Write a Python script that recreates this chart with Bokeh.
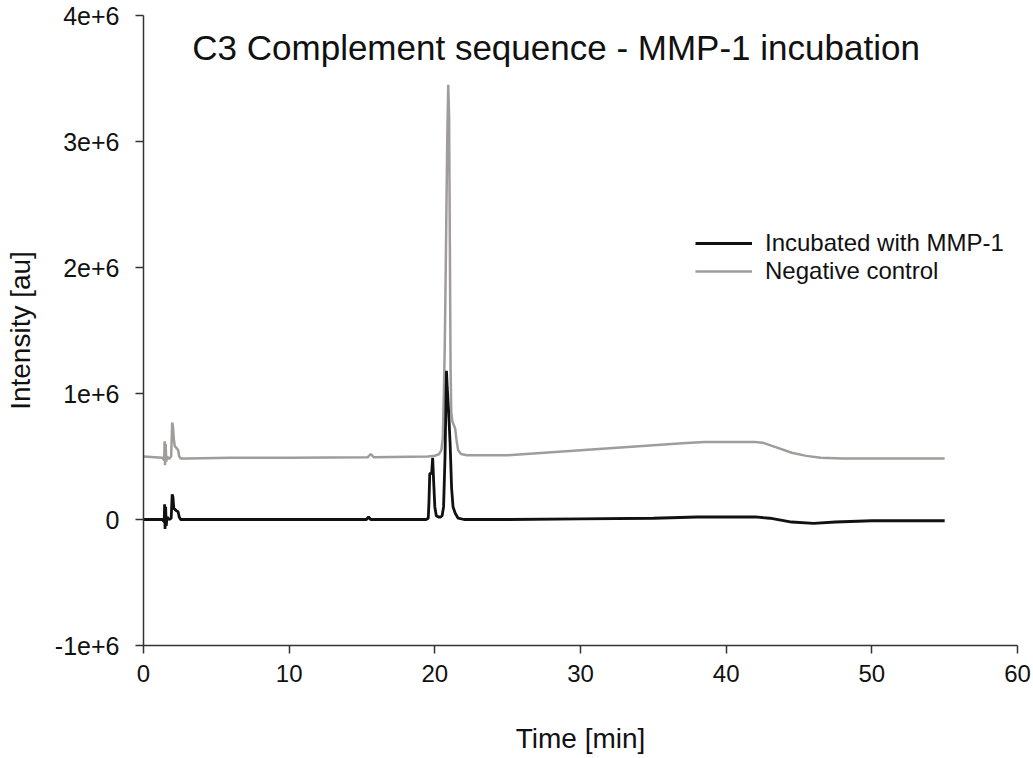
from bokeh.plotting import figure
from bokeh.models import Range1d, FixedTicker, Legend, LegendItem, Label
from bokeh.embed import file_html
from bokeh.resources import INLINE

# ---- data ----
title_text = "C3 Complement sequence - MMP-1 incubation"
x_label = "Time [min]"
y_label = "Intensity [au]"
x_ticks = [0, 10, 20, 30, 40, 50, 60]
y_ticks = [-1e6, 0, 1e6, 2e6, 3e6, 4e6]
y_tick_labels = ["-1e+6", "0", "1e+6", "2e+6", "3e+6", "4e+6"]
series_names = ["Incubated with MMP-1", "Negative control"]

t_mmp = [0, 1.3, 1.42, 1.45, 1.48, 1.52, 1.56, 1.62, 1.75, 1.9, 1.97, 2.02, 2.08, 2.15,
         2.25, 2.38, 2.45, 2.55, 3, 6, 10, 15.3, 15.45, 15.6, 19.4, 19.55, 19.6, 19.65,
         19.7, 19.78, 19.85, 19.92, 20.0, 20.1, 20.25, 20.4, 20.5, 20.6, 20.7, 20.8, 20.85,
         20.95, 21.05, 21.15, 21.25, 21.4, 21.6, 22, 25, 30, 35, 38, 42, 43, 44.5, 46,
         47.5, 50, 55]
y_mmp = [0.0, 0.0, -0.02e6, 0.12e6, -0.075e6, 0.1e6, -0.05e6, 0.02e6, 0.0, 0.01e6,
         0.2e6, 0.18e6, 0.09e6, 0.08e6, 0.07e6, 0.06e6, 0.02e6, 0.0, 0.0, 0.0, 0.0,
         0.0, 0.02e6, 0.0, 0.0, 0.01e6, 0.15e6, 0.36e6, 0.37e6, 0.36e6, 0.49e6, 0.3e6,
         0.1e6, 0.03e6, 0.02e6, 0.02e6, 0.03e6, 0.1e6, 0.5e6, 1.18e6, 1.05e6, 0.85e6,
         0.6e6, 0.25e6, 0.1e6, 0.05e6, 0.01e6, 0.0, 0.0, 0.005e6, 0.01e6, 0.02e6,
         0.02e6, 0.01e6, -0.02e6, -0.03e6, -0.02e6, -0.01e6, -0.01e6]

t_ctrl = [0, 1.3, 1.42, 1.45, 1.48, 1.52, 1.56, 1.62, 1.75, 1.9, 1.97, 2.02, 2.08, 2.15,
          2.25, 2.38, 2.45, 2.55, 3, 6, 10, 15.4, 15.6, 15.8, 19.5, 20.0, 20.3, 20.45,
          20.55, 20.62, 20.68, 20.75, 20.85, 20.92, 20.98, 21.03, 21.08, 21.13, 21.2,
          21.3, 21.4, 21.5, 21.6, 21.8, 22.2, 25, 30, 35, 37, 38.5, 42, 42.5, 43.5, 44.5,
          45.5, 46.5, 48, 55]
y_ctrl = [0.5e6, 0.49e6, 0.47e6, 0.62e6, 0.43e6, 0.6e6, 0.46e6, 0.5e6, 0.48e6, 0.5e6,
          0.77e6, 0.74e6, 0.64e6, 0.58e6, 0.57e6, 0.55e6, 0.5e6, 0.485e6, 0.485e6,
          0.49e6, 0.49e6, 0.495e6, 0.52e6, 0.495e6, 0.5e6, 0.505e6, 0.52e6, 0.55e6,
          0.65e6, 1.0e6, 1.36e6, 2.0e6, 3.0e6, 3.45e6, 3.2e6, 2.2e6, 1.2e6, 0.85e6,
          0.78e6, 0.75e6, 0.72e6, 0.62e6, 0.55e6, 0.52e6, 0.51e6, 0.51e6, 0.55e6,
          0.59e6, 0.605e6, 0.615e6, 0.615e6, 0.61e6, 0.57e6, 0.53e6, 0.505e6, 0.49e6,
          0.485e6, 0.485e6]

FONT = "Liberation Sans"
TXT = "#111111"

p = figure(width=1033, height=756, output_backend="svg", toolbar_location=None,
           x_range=Range1d(0, 60), y_range=Range1d(-1e6, 4e6),
           min_border_left=143, min_border_right=16, min_border_top=15,
           min_border_bottom=107)
p.outline_line_color = None
p.xgrid.grid_line_color = None
p.ygrid.grid_line_color = None

r_ctrl = p.line(t_ctrl, y_ctrl, line_color="#a09c9c", line_width=2.5)
r_mmp = p.line(t_mmp, y_mmp, line_color="#111111", line_width=2.8)

for ax in (p.xaxis[0], p.yaxis[0]):
    ax.axis_line_color = "#333333"
    ax.axis_line_width = 1.5
    ax.major_tick_line_color = "#333333"
    ax.major_tick_line_width = 1.5
    ax.major_tick_out = 8
    ax.major_tick_in = 0
    ax.minor_tick_line_color = None
    ax.major_label_text_font = FONT
    ax.major_label_text_color = TXT
    ax.axis_label_text_font = FONT
    ax.axis_label_text_color = TXT
    ax.axis_label_text_font_style = "normal"
    ax.axis_label_text_font_size = "28px"

p.xaxis.ticker = FixedTicker(ticks=x_ticks)
p.xaxis.major_label_text_font_size = "24px"
p.xaxis.major_label_standoff = 11
p.xaxis.axis_label = x_label
p.xaxis.axis_label_standoff = 38

p.yaxis.ticker = FixedTicker(ticks=y_ticks)
p.yaxis.major_label_overrides = {t: s for t, s in zip(y_ticks, y_tick_labels)}
p.yaxis.major_label_text_font_size = "25px"
p.yaxis.major_label_standoff = 16
p.yaxis.axis_label = y_label
p.yaxis.axis_label_standoff = 16

title = Label(x=3.35, y=3.75e6, text=title_text, text_font=FONT,
              text_font_size="35px", text_color=TXT, text_baseline="alphabetic")
p.add_layout(title)

legend = Legend(items=[LegendItem(label=series_names[0], renderers=[r_mmp]),
                       LegendItem(label=series_names[1], renderers=[r_ctrl])],
                location=(552, 360), orientation="vertical")
legend.glyph_width = 57
legend.label_standoff = 13
legend.label_text_font = FONT
legend.label_text_font_size = "24px"
legend.label_text_color = TXT
legend.padding = 0
legend.margin = 0
legend.spacing = 0
legend.border_line_color = None
legend.background_fill_alpha = 0
p.add_layout(legend)

open("out.html", "w").write(file_html(p, INLINE))
